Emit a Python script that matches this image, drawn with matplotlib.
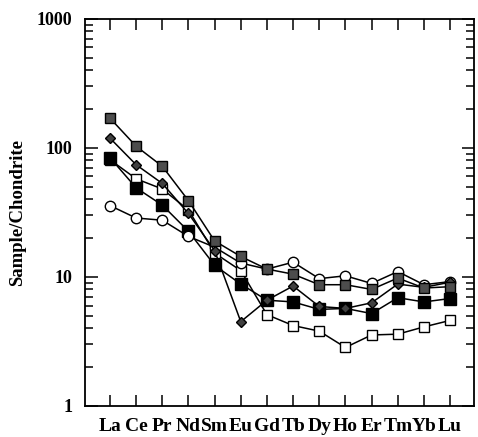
import matplotlib
matplotlib.use("Agg")
import matplotlib.pyplot as plt
from matplotlib.font_manager import FontProperties
from matplotlib.ticker import LogLocator, NullFormatter, FixedLocator, FixedFormatter

elements = ["La", "Ce", "Pr", "Nd", "Sm", "Eu", "Gd", "Tb", "Dy", "Ho", "Er", "Tm", "Yb", "Lu"]

series_top = [170, 103, 72, 39, 19, 14.4, 11.5, 10.5, 8.7, 8.7, 8.0, 9.8, 8.2, 8.4]
series_circle = [35.7, 28.6, 27.5, 20.6, 17.0, 12.8, 11.5, 13.0, 9.7, 10.2, 8.9, 11.0, 8.7, 9.2]
series_diamond = [119, 74, 53, 31, 16.0, 4.5, 6.6, 8.5, 5.9, 5.7, 6.3, 8.8, 8.3, 9.1]
series_filled = [84, 49, 36, 22.6, 12.3, 8.8, 6.6, 6.4, 5.6, 5.7, 5.2, 6.9, 6.4, 6.8]
series_open = [81, 57.6, 48, 33, 15.3, 11.2, 5.1, 4.2, 3.8, 2.84, 3.55, 3.6, 4.1, 4.6]

yticks = [1, 10, 100, 1000]
ytick_labels = ["1", "10", "100", "1000"]

fig = plt.figure(figsize=(4.78, 4.37), dpi=100)
ax = fig.add_axes([0.178, 0.071, 0.814, 0.886])

x = list(range(len(elements)))
lw = 1.1
common = dict(color="black", lw=lw, markeredgecolor="black", markeredgewidth=1.0)
ax.plot(x, series_open, marker="s", ms=7, markerfacecolor="white", **common)
ax.plot(x, series_filled, marker="s", ms=8, markerfacecolor="black", **common)
ax.plot(x, series_circle, marker="o", ms=7.5, markerfacecolor="white", **common)
ax.plot(x, series_diamond, marker="D", ms=5, markerfacecolor="0.25", **common)
ax.plot(x, series_top, marker="s", ms=7.5, markerfacecolor="0.3", **common)

ax.set_yscale("log")
ax.set_ylim(1, 1000)
ax.set_xlim(-0.95, 13.92)

ax.yaxis.set_major_locator(FixedLocator(yticks))
ax.yaxis.set_major_formatter(FixedFormatter(ytick_labels))
ax.yaxis.set_minor_locator(LogLocator(base=10, subs=range(2, 10)))
ax.yaxis.set_minor_formatter(NullFormatter())
ax.set_xticks(x)
ax.set_xticklabels(elements)

font = dict(family="Liberation Serif", weight="bold")
for lab in ax.get_xticklabels():
    lab.set_fontproperties(FontProperties(size=14, **font))
for lab in ax.get_yticklabels():
    lab.set_fontproperties(FontProperties(size=13, **font))

ax.tick_params(axis="both", which="both", direction="in", top=True, right=True, width=1.1)
ax.tick_params(axis="y", which="major", length=9, pad=9)
ax.tick_params(axis="y", which="minor", length=6)
ax.tick_params(axis="x", which="major", length=8, pad=9)

for s in ax.spines.values():
    s.set_linewidth(1.3)

ax.set_ylabel("Sample/Chondrite", fontsize=13.5, labelpad=8, **font)

fig.savefig("out.png", dpi=100, facecolor="white")
